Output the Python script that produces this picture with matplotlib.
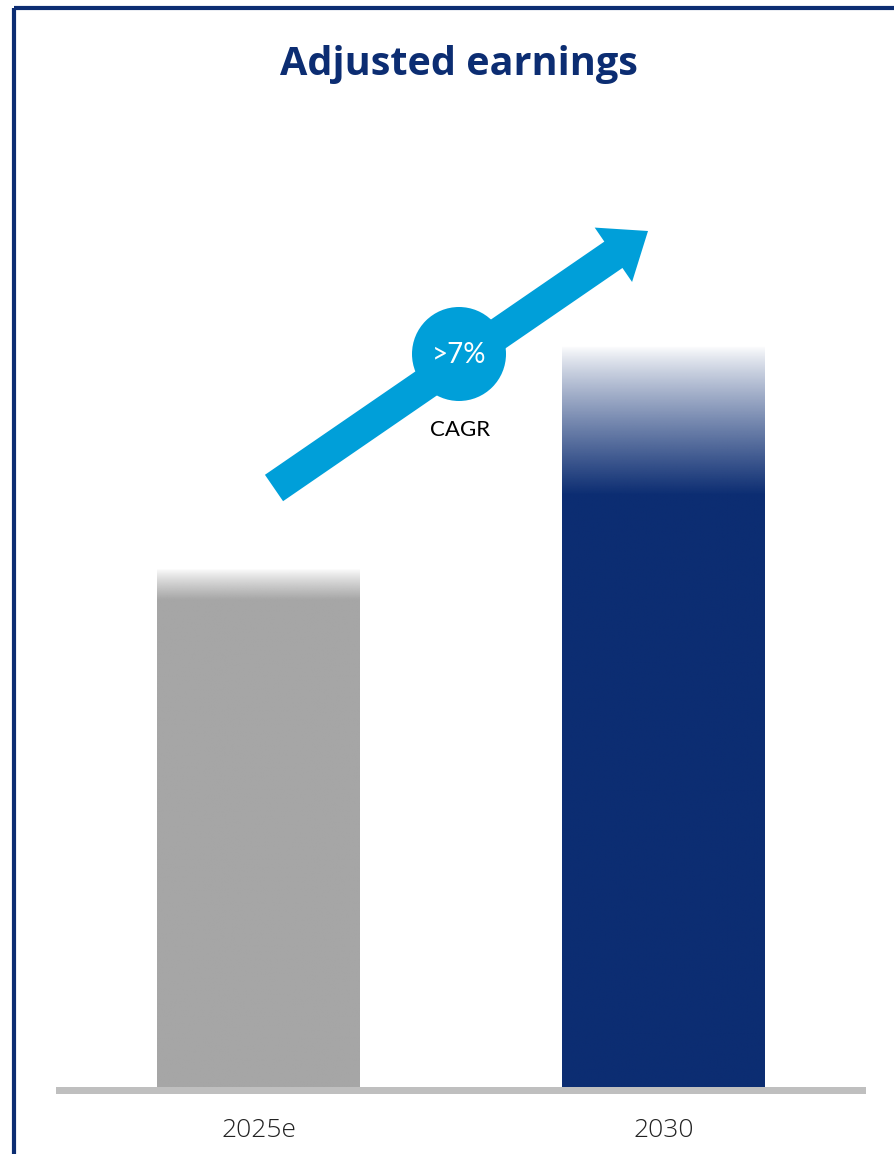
import numpy as np
import matplotlib.pyplot as plt
from matplotlib.colors import to_rgb
from matplotlib.patches import Rectangle, Circle, Polygon

# Adjusted earnings, indexed to 2025e = 100
years = ['2025e', '2030']
earnings = [100, 143]
bar_colors = ['#a6a6a6', '#0c2d72']
fade_share = [0.06, 0.20]   # part of each bar that fades out at the top
cagr_label = '>7%'

NAVY = '#0c2d72'
CYAN = '#009fd9'
W, H = 895, 1154

fig = plt.figure(figsize=(W / 100, H / 100), dpi=100)

# bar panel: baseline at the bottom, values mapped through ylim
ax = fig.add_axes([56 / W, 60 / H, 810 / W, 785 / H])
ax.set_xlim(-0.5, 1.5)
ax.set_ylim(-1.35, 150)
ax.axis('off')

bar_w = 0.5
for i, (val, col, fade) in enumerate(zip(earnings, bar_colors, fade_share)):
    rgb = to_rgb(col)
    n = 400
    t = np.linspace(0, 1, n)  # 0 = bottom, 1 = top
    start = 1 - fade
    alpha = np.clip((1 - t) / fade, 0, 1)
    alpha = np.where(t < start, 1.0, alpha ** 0.85)
    img = np.zeros((n, 2, 4))
    img[..., :3] = rgb
    img[..., 3] = alpha[::-1, None]
    ax.imshow(img, extent=(i - bar_w / 2, i + bar_w / 2, 0, val),
              aspect='auto', interpolation='bilinear', zorder=2)

ax.axhspan(-1.35, 0, color='#bfbfbf', lw=0, zorder=1)

for i, lab in enumerate(years):
    ax.text(i, -8.3, lab, ha='center', va='center', fontsize=19,
            family='Open Sans', fontweight='light', color='#222222')

# overlay in pixel space for frame, title and growth arrow
ov = fig.add_axes([0, 0, 1, 1], zorder=5)
ov.set_xlim(0, W)
ov.set_ylim(H, 0)
ov.axis('off')
ov.patch.set_alpha(0)

ov.add_patch(Rectangle((14, 8), W + 20, H + 20, fill=False,
                       edgecolor=NAVY, lw=3))

ov.text(459, 64, 'Adjusted earnings', ha='center', va='center',
        fontsize=28.5, fontweight='bold', family='Open Sans', color=NAVY)

# growth arrow
tail = np.array([274, 488])
tip = np.array([648, 231])
d = (tip - tail) / np.linalg.norm(tip - tail)
nrm = np.array([d[1], -d[0]])
shaft_hw, head_hw, head_len = 16, 33, 42
neck = tip - d * head_len
arrow_pts = [tail + nrm * shaft_hw, neck + nrm * shaft_hw, neck + nrm * head_hw,
             tip, neck - nrm * head_hw, neck - nrm * shaft_hw, tail - nrm * shaft_hw]
ov.add_patch(Polygon(arrow_pts, closed=True, color=CYAN, lw=0))
ov.add_patch(Circle((459, 354), 47, color=CYAN, lw=0))
ov.text(459, 355, cagr_label, ha='center', va='center', fontsize=20,
        family='Lato', color='white')
ov.text(460, 430, 'CAGR', ha='center', va='center', fontsize=16,
        family='Lato', color='black')

fig.savefig('out.png', dpi=100)
